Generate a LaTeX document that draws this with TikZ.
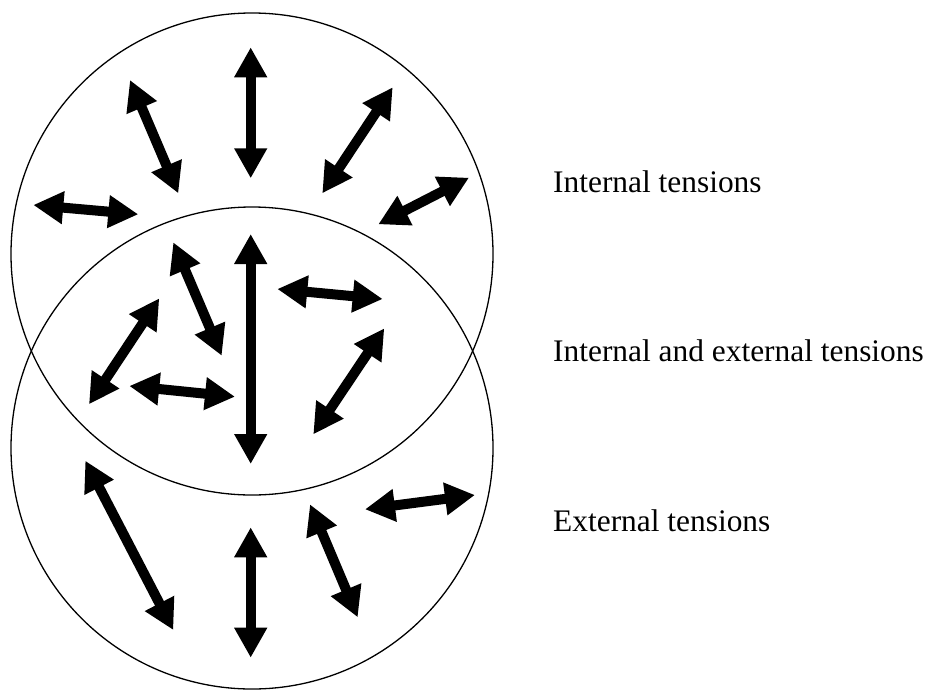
\documentclass[tikz,border=0pt]{standalone}
\usepackage{fontspec}
\setmainfont{Liberation Serif}
\usetikzlibrary{arrows.meta}
\begin{document}
\begin{tikzpicture}[x=1pt,y=-1pt,
  ring/.style={draw=black, line width=1.3pt},
  tarrow/.style={line width=10pt, {Triangle[length=30pt,width=31pt]}-{Triangle[length=30pt,width=31pt]}},
  lab/.style={anchor=base west, inner sep=0pt, font=\fontsize{31.4}{37}\selectfont}]
\useasboundingbox (0,0) rectangle (925,691);
% circles
\draw[ring] (252,254) circle[radius=241];
\draw[ring] (252,448) circle[radius=241];
% upper region arrows
\draw[tarrow] (250.7,47.3) -- (250.7,178.3);
\draw[tarrow] (130,80) -- (178.3,193.3);
\draw[tarrow] (392.7,87.3) -- (322.3,193.3);
\draw[tarrow] (33.3,205) -- (138.3,214.3);
\draw[tarrow] (469,177.7) -- (378.3,224.3);
% overlap region arrows
\draw[tarrow] (250.7,234) -- (250.7,464);
\draw[tarrow] (173.3,242.3) -- (221.7,355.7);
\draw[tarrow] (159.3,298.3) -- (89,404.3);
\draw[tarrow] (129.3,386) -- (235,396.7);
\draw[tarrow] (277.3,289) -- (382.7,299);
\draw[tarrow] (384.3,328.3) -- (313.3,434.3);
% lower region arrows
\draw[tarrow] (85.3,460.7) -- (173.3,630);
\draw[tarrow] (250.7,527.3) -- (250.7,657.7);
\draw[tarrow] (310,504.3) -- (357.7,617.3);
\draw[tarrow] (365,509.3) -- (475,495);
% labels
\node[lab] (l1) at (553,192.7) {Internal tensions};
\node[lab] (l2) at (553,361.7) {Internal and external tensions};
\node[lab] (l3) at (553,531.7) {External tensions};
\end{tikzpicture}
\end{document}
